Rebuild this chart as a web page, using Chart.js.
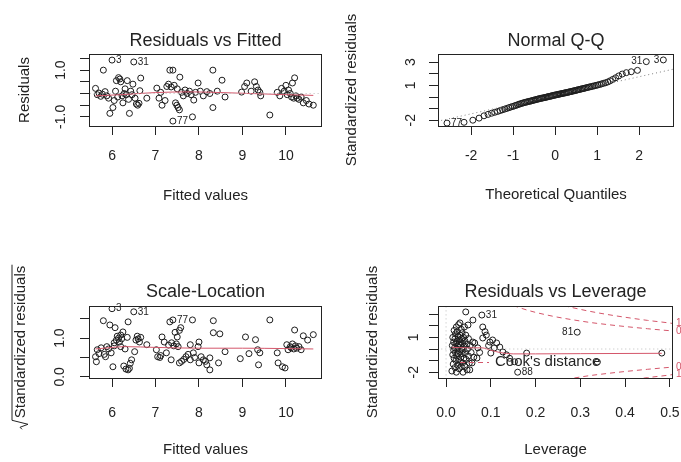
<!DOCTYPE html>
<html><head><meta charset="utf-8">
<script src="https://cdn.jsdelivr.net/npm/chart.js@4.4.1/dist/chart.umd.min.js"></script>
<style>
html,body{margin:0;padding:0;overflow:hidden;background:#fff;width:681px;height:462px;position:relative;}
canvas{position:absolute;left:0;top:0;}
</style></head><body>
<canvas id="c1" width="720" height="462"></canvas>
<canvas id="c2" width="720" height="462"></canvas>
<canvas id="c3" width="720" height="462"></canvas>
<canvas id="c4" width="720" height="462"></canvas>
<script>
// ---------- Residuals vs Fitted ----------
const rvfFitted = [5.62,5.66,5.7,5.74,5.78,5.8,5.84,5.88,5.92,5.95,6.0,6.02,6.05,6.08,6.1,6.13,6.15,6.18,6.2,6.23,6.25,6.28,6.3,6.33,6.35,6.38,6.4,6.43,6.46,6.48,6.5,6.53,6.56,6.59,6.62,6.64,6.66,6.8,
  7.03,7.08,7.12,7.15,7.22,7.26,7.3,7.33,7.36,7.4,7.4,7.43,7.46,7.49,7.5,7.52,7.55,7.56,7.6,7.64,7.68,7.73,7.78,7.82,7.85,7.88,7.92,7.98,8.03,8.1,8.18,8.25,8.32,8.32,8.42,8.53,8.6,
  8.98,9.05,9.1,9.2,9.28,9.32,9.36,9.4,9.42,9.63,
  9.8,9.86,9.9,9.96,10.0,10.03,10.06,10.1,10.13,10.15,10.18,10.2,10.23,10.26,10.3,10.35,10.4,10.47,10.53,10.63];
const rvfResid = [0.22,-0.05,0.02,-0.12,-0.03,1.0,0.08,-0.1,-0.2,-0.85,1.43,-0.6,-0.3,0.1,0.55,-0.15,0.68,0.62,0.5,-0.1,-0.4,0.0,0.2,-0.05,0.55,-0.25,-0.85,0.1,-0.05,0.4,1.35,-0.2,-0.45,-0.5,-0.42,0.12,0.66,-0.2,
  0.23,-0.2,0.05,-0.5,-0.3,0.3,0.4,1.0,0.28,1.0,-1.18,0.35,-0.4,-0.5,0.2,-0.6,-0.7,0.7,0.05,-0.1,0.15,0.0,0.1,-0.05,-1.0,-0.28,0.05,0.45,0.1,-0.1,0.08,0.0,1.0,-0.6,0.1,0.57,-0.15,
  0.06,0.3,0.45,0.1,0.5,0.3,0.15,0.05,-0.1,-0.92,
  0.05,-0.1,0.22,0.1,0.35,-0.05,0.15,0.0,-0.15,0.45,-0.2,0.67,-0.1,-0.2,-0.25,-0.15,-0.4,-0.3,-0.45,-0.5];
const rvfSmoothX = [5.62,6.2,7.0,7.8,8.5,9.2,10.0,10.63];
const rvfSmoothY = [-0.1,-0.05,0.04,0.07,0.04,0.0,-0.05,-0.08];
const rvfZeroX = [5.3,11.0];
const rvfZeroY = [0,0];
const rvfIdText = ["3","31","77"];
const rvfIdX = [6.0,6.5,7.4];
const rvfIdY = [1.43,1.35,-1.18];
const rvfXTicks = [6,7,8,9,10];
const rvfXTickText = ["6","7","8","9","10"];
const rvfYTicks = [-1,-0.5,0,0.5,1,1.5];
const rvfYLabVals = [-1,1];
const rvfYLabText = ["-1.0","1.0"];

// ---------- Normal Q-Q ----------
const qqTheo = [-2.576,-2.170,-1.960,-1.812,-1.695,-1.598,-1.514,-1.440,-1.372,-1.311,-1.254,-1.200,-1.150,-1.103,-1.058,-1.015,-0.974,-0.935,-0.896,-0.860,
  -0.824,-0.789,-0.755,-0.722,-0.690,-0.659,-0.628,-0.598,-0.568,-0.539,-0.510,-0.482,-0.454,-0.426,-0.399,-0.372,-0.345,-0.319,-0.292,-0.266,
  -0.240,-0.215,-0.189,-0.164,-0.138,-0.113,-0.088,-0.063,-0.038,-0.013,0.013,0.038,0.063,0.088,0.113,0.138,0.164,0.189,0.215,0.240,
  0.266,0.292,0.319,0.345,0.372,0.399,0.426,0.454,0.482,0.510,0.539,0.568,0.598,0.628,0.659,0.690,0.722,0.755,0.789,0.824,
  0.860,0.896,0.935,0.974,1.015,1.058,1.103,1.150,1.200,1.254,1.311,1.372,1.440,1.514,1.598,1.695,1.812,1.960,2.170,2.576];
const qqStd = [-2.25,-2.18,-2.0,-1.82,-1.62,-1.5,-1.4,-1.32,-1.25,-1.17,-1.1,-1.04,-0.98,-0.92,-0.87,-0.82,-0.77,-0.72,-0.67,-0.62,
  -0.58,-0.54,-0.5,-0.47,-0.44,-0.41,-0.38,-0.36,-0.33,-0.3,-0.27,-0.25,-0.22,-0.19,-0.17,-0.14,-0.12,-0.1,-0.08,-0.06,
  -0.04,-0.02,0.01,0.03,0.05,0.07,0.09,0.12,0.14,0.16,0.18,0.2,0.22,0.24,0.26,0.28,0.3,0.32,0.34,0.36,
  0.38,0.4,0.42,0.45,0.47,0.49,0.52,0.54,0.56,0.59,0.62,0.64,0.67,0.7,0.72,0.75,0.78,0.81,0.84,0.87,
  0.9,0.93,0.97,1.0,1.04,1.08,1.13,1.18,1.23,1.3,1.4,1.52,1.66,1.82,1.98,2.1,2.18,2.3,3.05,3.2];
const qqLineX = [-2.9,2.9];
const qqLineY = [-2.17,2.47];
const qqIdText = ["77","31","3"];
const qqIdX = [-2.576,2.170,2.576];
const qqIdY = [-2.25,3.05,3.2];
const qqXTicks = [-2,-1,0,1,2];
const qqXTickText = ["-2","-1","0","1","2"];
const qqYTicks = [-2,-1,0,1,2,3];
const qqYLabVals = [-2,1,3];
const qqYLabText = ["-2","1","3"];

// ---------- Scale-Location ----------
const slFitted = [5.62,5.64,5.66,5.7,5.75,5.8,5.82,5.85,5.88,5.92,5.95,5.98,6.0,6.02,6.05,6.05,6.07,6.1,6.12,6.15,6.17,6.2,6.2,6.22,6.25,6.27,6.3,6.32,6.35,6.37,6.37,6.4,6.42,6.45,6.5,6.52,6.55,6.58,6.6,6.63,6.66,6.8,
  7.02,7.05,7.1,7.12,7.15,7.2,7.25,7.3,7.33,7.36,7.37,7.4,7.42,7.45,7.48,7.5,7.52,7.55,7.58,7.55,7.6,7.65,7.7,7.75,7.8,7.8,7.85,7.87,7.9,7.98,8.0,8.0,8.05,8.1,8.15,8.18,8.25,8.25,8.33,8.33,8.45,8.48,8.6,
  8.95,9.07,9.15,9.3,9.35,9.37,9.4,9.63,
  9.8,9.82,9.92,9.98,10.02,10.05,10.1,10.12,10.15,10.18,10.2,10.22,10.25,10.3,10.35,10.4,10.5,10.63];
const slSqrtStd = [0.52,0.39,0.7,0.6,0.75,1.45,0.58,0.52,0.78,0.72,1.34,0.62,1.76,0.26,0.8,0.88,1.27,0.95,1.05,1.0,0.9,1.08,0.78,0.98,1.16,0.28,0.72,0.2,1.02,1.42,0.18,0.22,0.35,0.44,1.68,0.65,0.95,1.05,0.98,0.9,1.02,0.83,
  0.7,0.52,0.5,0.55,1.03,0.9,0.62,0.82,1.42,0.44,0.88,1.47,0.8,1.15,0.85,1.03,0.78,1.2,1.27,0.36,0.4,0.45,0.52,0.58,0.44,0.83,1.47,0.62,0.5,0.78,0.9,0.36,0.52,0.44,0.4,0.31,0.49,0.18,1.45,1.14,0.36,1.11,0.65,
  0.47,1.03,0.6,0.96,0.7,0.31,0.62,1.47,
  0.62,0.36,0.26,0.23,0.83,0.7,0.78,0.75,0.85,0.72,1.21,0.8,0.74,0.78,0.7,1.06,0.95,1.09];
const slSmoothX = [5.62,6.0,6.3,7.0,8.0,9.0,10.0,10.63];
const slSmoothY = [0.72,0.76,0.78,0.76,0.74,0.74,0.73,0.72];
const slIdText = ["3","31","77"];
const slIdX = [6.0,6.5,7.4];
const slIdY = [1.76,1.68,1.47];
const slXTicks = [6,7,8,9,10];
const slXTickText = ["6","7","8","9","10"];
const slYTicks = [0,0.5,1,1.5];
const slYLabVals = [0,1];
const slYLabText = ["0.0","1.0"];

// ---------- Residuals vs Leverage ----------
const lvLev = [0.013,0.014,0.015,0.015,0.016,0.017,0.017,0.018,0.018,0.019,0.02,0.02,0.021,0.021,0.022,0.022,0.023,0.023,0.024,0.024,
  0.025,0.025,0.026,0.026,0.027,0.027,0.028,0.028,0.029,0.029,0.03,0.03,0.031,0.031,0.032,0.032,0.033,0.033,0.034,0.034,
  0.035,0.035,0.036,0.036,0.037,0.037,0.038,0.038,0.039,0.04,0.04,0.041,0.042,0.042,0.043,0.044,0.044,0.045,0.046,0.047,
  0.048,0.049,0.05,0.05,0.052,0.053,0.054,0.056,0.058,0.06,0.06,0.062,
  0.064,0.069,0.071,0.075,0.08,0.082,0.082,0.087,0.09,0.095,0.098,0.1,0.104,0.108,0.113,0.12,0.127,0.135,0.142,0.153,0.16,0.18,0.293,0.338,0.482];
const lvStd = [-1.9,0.3,-0.5,1.0,-1.3,0.6,-0.1,1.6,-0.8,0.1,-1.6,0.9,-0.3,1.3,-1.0,0.5,-2.0,1.9,0.0,-0.6,
  0.7,1.5,-1.4,0.2,-0.4,1.1,-0.9,2.1,0.4,-1.7,0.8,-0.2,2.25,1.2,-1.1,0.3,-0.7,0.6,1.7,-1.5,
  0.0,0.9,-0.4,1.4,-1.2,0.5,-2.0,-0.1,1.0,-0.8,0.2,1.9,-1.5,0.7,-0.3,3.2,1.2,-0.9,0.4,-1.8,
  0.0,2.07,-0.6,0.9,-1.2,-1.8,0.3,-0.3,-1.2,2.5,0.6,-0.7,
  0.52,-0.78,0.1,-0.3,2.93,1.9,0.95,1.5,1.2,0.3,0.6,-0.35,0.78,0.1,0.52,0.17,-0.26,-0.5,-0.8,-1.1,-2.0,-0.35,1.45,-1.12,-0.35];
const lvSmoothX = [0.013,0.03,0.05,0.08,0.1,0.12,0.15,0.2,0.3,0.482];
const lvSmoothY = [0.15,0.12,0.1,0.1,-0.1,-0.3,-0.42,-0.42,-0.4,-0.37];
const cookH = [0.15,0.16,0.18,0.2,0.22,0.25,0.28,0.32,0.36,0.4,0.45,0.5,0.507];
const cookHalfUp = [3.76,3.62,3.37,3.16,2.98,2.74,2.54,2.30,2.11,1.94,1.75,1.58,1.56];
const cookHalfDown = [-3.76,-3.62,-3.37,-3.16,-2.98,-2.74,-2.54,-2.30,-2.11,-1.94,-1.75,-1.58,-1.56];
const cookOneUp = [5.32,5.12,4.77,4.47,4.21,3.87,3.59,3.26,2.98,2.74,2.47,2.24,2.2];
const cookOneDown = [-5.32,-5.12,-4.77,-4.47,-4.21,-3.87,-3.59,-3.26,-2.98,-2.74,-2.47,-2.24,-2.2];
const cookLabVals = [2.2,1.56,-1.56,-2.2];
const cookLabText = ["1","0.5","0.5","1"];
const lvZeroHX = [-0.1,0.6];
const lvZeroHY = [0,0];
const lvZeroVX = [0,0];
const lvZeroVY = [-4,5];
const lvIdText = ["31","81","88"];
const lvIdX = [0.08,0.293,0.16];
const lvIdY = [2.93,1.45,-2.0];
const lvXTicks = [0,0.1,0.2,0.3,0.4,0.5];
const lvXTickText = ["0.0","0.1","0.2","0.3","0.4","0.5"];
const lvYTicks = [-2,-1,0,1,2,3];
const lvYLabVals = [-2,1];
const lvYLabText = ["-2","1"];

// ---------- drawing ----------
const FONT = "'Liberation Sans', Arial, Helvetica, sans-serif";
const INK = '#232323';
const PT = '#1c1c1c';
const RED = '#d4566a';
const CW = 720, CH = 462, AXW = 40, AXH = 40, TL = 9;

function pts(xs, ys){ return xs.map((v,i)=>({x:v, y:ys[i]})); }
function scatterDs(xs, ys){
  return {data:pts(xs,ys), showLine:false, pointStyle:'circle', pointRadius:3, pointHoverRadius:3,
    pointBorderWidth:1, pointBorderColor:PT, pointBackgroundColor:'rgba(0,0,0,0)', order:2};
}
function lineDs(xs, ys, color, dash, smooth){
  return {data:pts(xs,ys), showLine:true, pointRadius:0, pointHoverRadius:0, borderColor:color, borderWidth:1,
    borderDash:dash||[], tension:smooth?0.4:0, cubicInterpolationMode:smooth?'monotone':'default', fill:false, order:1};
}
function vText(ctx, text, x, y){
  ctx.save(); ctx.translate(x, y); ctx.rotate(-Math.PI/2);
  ctx.textAlign='center'; ctx.textBaseline='middle'; ctx.fillText(text, 0, 0); ctx.restore();
}

function panel(id, c){
  const deco = {
    id:'deco'+id,
    afterDatasetsDraw(chart){
      const ctx = chart.ctx, a = chart.chartArea, xs = chart.scales.x, ys = chart.scales.y;
      ctx.save();
      ctx.strokeStyle = INK; ctx.lineWidth = 1; ctx.setLineDash([]);
      ctx.strokeRect(Math.round(a.left)+0.5, Math.round(a.top)+0.5, Math.round(a.right-a.left)-1, Math.round(a.bottom-a.top));
      ctx.fillStyle = INK;
      ctx.font = '14px ' + FONT;
      c.yLabVals.forEach((v,i)=>vText(ctx, c.yLabText[i], c.yLabX, ys.getPixelForValue(v)));
      const cx = (a.left + a.right)/2;
      ctx.textAlign='center'; ctx.textBaseline='middle';
      ctx.font = '18px ' + FONT;
      ctx.fillText(c.title, cx, c.titleY);
      ctx.font = '15px ' + FONT;
      ctx.fillText(c.xTitle, cx, c.xTitleY);
      if (c.yTitle) vText(ctx, c.yTitle, c.yTitleX, (a.top + a.bottom)/2);
      ctx.font = '10px ' + FONT; ctx.textBaseline='middle';
      c.ids.text.forEach((t,i)=>{
        const px = xs.getPixelForValue(c.ids.x[i]), py = ys.getPixelForValue(c.ids.y[i]);
        if (c.ids.side[i] === 'l'){ ctx.textAlign='right'; ctx.fillText(t, px-4, py); }
        else { ctx.textAlign='left'; ctx.fillText(t, px+4, py); }
      });
      if (c.extra) c.extra(chart, ctx);
      ctx.restore();
    }
  };
  new Chart(document.getElementById(id), {
    type:'scatter',
    data:{datasets:c.datasets},
    options:{
      responsive:false, animation:false, events:[],
      layout:{padding:{left:c.box[0]-AXW, top:c.box[1], right:CW-c.box[2], bottom:CH-c.box[3]-AXH}},
      plugins:{legend:{display:false}, tooltip:{enabled:false}},
      scales:{
        x:{type:'linear', position:'bottom', min:c.x.min, max:c.x.max,
          afterBuildTicks:s=>{ s.ticks = c.x.ticks.map(v=>({value:v})); },
          afterFit:s=>{ s.height = AXH; },
          grid:{display:true, drawOnChartArea:false, drawTicks:true, tickLength:TL, color:INK, lineWidth:1},
          border:{display:false},
          ticks:{autoSkip:false, maxRotation:0, minRotation:0, padding:c.xPad, color:INK,
            font:{family:FONT, size:14}, callback:(v,i)=>c.x.text[i]}
        },
        y:{type:'linear', position:'left', min:c.y.min, max:c.y.max,
          afterBuildTicks:s=>{ s.ticks = c.y.ticks.map(v=>({value:v})); },
          afterFit:s=>{ s.width = AXW; },
          grid:{display:true, drawOnChartArea:false, drawTicks:true, tickLength:TL, color:INK, lineWidth:1},
          border:{display:false},
          ticks:{display:false}
        }
      }
    },
    plugins:[deco]
  });
}

panel('c1', {
  box:[89,54,322,126], xPad:13,
  x:{min:5.47, max:10.83, ticks:rvfXTicks, text:rvfXTickText},
  y:{min:-1.39, max:1.69, ticks:rvfYTicks},
  yLabVals:rvfYLabVals, yLabText:rvfYLabText, yLabX:61,
  title:'Residuals vs Fitted', titleY:41, xTitle:'Fitted values', xTitleY:196,
  yTitle:'Residuals', yTitleX:25,
  ids:{text:rvfIdText, x:rvfIdX, y:rvfIdY, side:['r','r','r']},
  datasets:[
    lineDs(rvfZeroX, rvfZeroY, '#bdbdbd', [1,3], false),
    lineDs(rvfSmoothX, rvfSmoothY, RED, [], true),
    scatterDs(rvfFitted, rvfResid)
  ]
});

panel('c2', {
  box:[438,54,674,126], xPad:13,
  x:{min:-2.79, max:2.83, ticks:qqXTicks, text:qqXTickText},
  y:{min:-2.5, max:3.71, ticks:qqYTicks},
  yLabVals:qqYLabVals, yLabText:qqYLabText, yLabX:411,
  title:'Normal Q-Q', titleY:41, xTitle:'Theoretical Quantiles', xTitleY:195,
  yTitle:'Standardized residuals', yTitleX:352,
  ids:{text:qqIdText, x:qqIdX, y:qqIdY, side:['r','l','l']},
  datasets:[
    lineDs(qqLineX, qqLineY, '#7f7f7f', [1,3], false),
    scatterDs(qqTheo, qqStd)
  ]
});

panel('c3', {
  box:[89,306,322,378], xPad:18,
  x:{min:5.47, max:10.83, ticks:slXTicks, text:slXTickText},
  y:{min:-0.03, max:1.83, ticks:slYTicks},
  yLabVals:slYLabVals, yLabText:slYLabText, yLabX:60,
  title:'Scale-Location', titleY:292, xTitle:'Fitted values', xTitleY:450,
  yTitle:null,
  ids:{text:slIdText, x:slIdX, y:slIdY, side:['r','r','r']},
  datasets:[
    lineDs(slSmoothX, slSmoothY, RED, [], true),
    scatterDs(slFitted, slSqrtStd)
  ],
  extra:(chart, ctx)=>{
    const a = chart.chartArea, cy = (a.top + a.bottom)/2, cx = 21;
    ctx.font = '15px ' + FONT; ctx.fillStyle = INK;
    const t = 'Standardized residuals', w = ctx.measureText(t).width;
    vText(ctx, t, cx, cy);
    ctx.save(); ctx.translate(cx, cy); ctx.rotate(-Math.PI/2);
    ctx.strokeStyle = INK; ctx.lineWidth = 1;
    const uL = -w/2, uR = w/2;
    ctx.beginPath();
    ctx.moveTo(uL-11, 1); ctx.lineTo(uL-9, -1); ctx.lineTo(uL-6, 7); ctx.lineTo(uL-2, -9); ctx.lineTo(uR+1, -9);
    ctx.stroke(); ctx.restore();
  }
});

panel('c4', {
  box:[438,306,673,378], xPad:18,
  x:{min:-0.018, max:0.507, ticks:lvXTicks, text:lvXTickText},
  y:{min:-2.5, max:3.71, ticks:lvYTicks},
  yLabVals:lvYLabVals, yLabText:lvYLabText, yLabX:414,
  title:'Residuals vs Leverage', titleY:292, xTitle:'Leverage', xTitleY:450,
  yTitle:'Standardized residuals', yTitleX:373,
  ids:{text:lvIdText, x:lvIdX, y:lvIdY, side:['r','l','r']},
  datasets:[
    lineDs(lvZeroHX, lvZeroHY, '#bdbdbd', [1,3], false),
    lineDs(lvZeroVX, lvZeroVY, '#bdbdbd', [1,3], false),
    lineDs(cookH, cookHalfUp, RED, [5,4], true),
    lineDs(cookH, cookHalfDown, RED, [5,4], true),
    lineDs(cookH, cookOneUp, RED, [5,4], true),
    lineDs(cookH, cookOneDown, RED, [5,4], true),
    lineDs(lvSmoothX, lvSmoothY, RED, [], true),
    scatterDs(lvLev, lvStd)
  ],
  extra:(chart, ctx)=>{
    const a = chart.chartArea, ys = chart.scales.y;
    ctx.font = '10px ' + FONT; ctx.fillStyle = RED; ctx.textAlign = 'left'; ctx.textBaseline = 'middle';
    cookLabVals.forEach((v,i)=>ctx.fillText(cookLabText[i], a.right+3, ys.getPixelForValue(v)));
    ctx.strokeStyle = RED; ctx.lineWidth = 1; ctx.setLineDash([5,4]);
    ctx.beginPath(); ctx.moveTo(460, 362.5); ctx.lineTo(489, 362.5); ctx.stroke(); ctx.setLineDash([]);
    ctx.fillStyle = INK; ctx.font = '15px ' + FONT;
    ctx.fillText("Cook's distance", 495, 362);
  }
});
</script>
</body></html>
